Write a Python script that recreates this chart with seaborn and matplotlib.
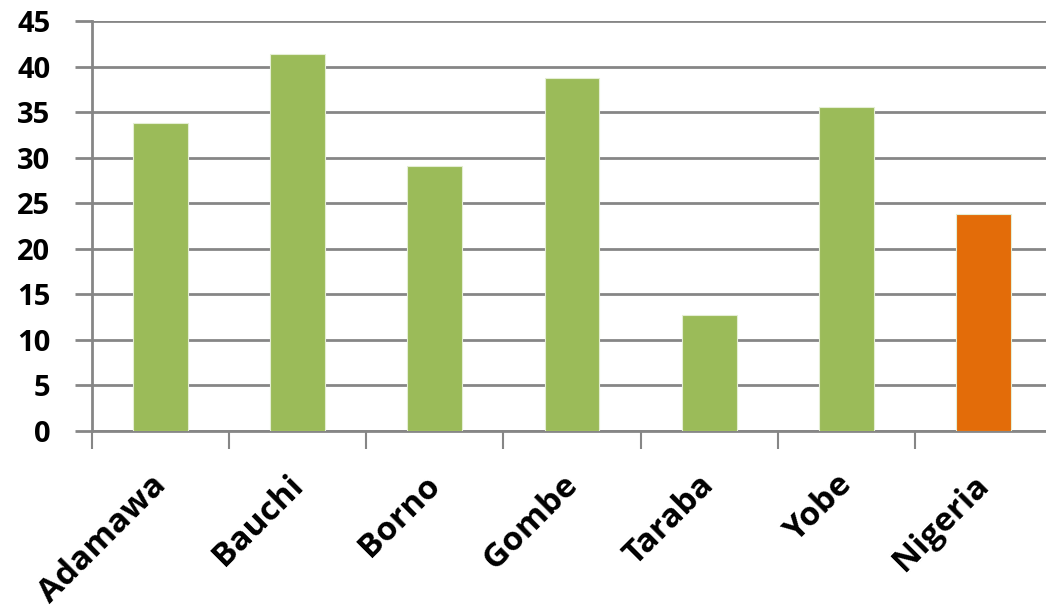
import matplotlib
matplotlib.use("Agg")
import matplotlib.pyplot as plt
import matplotlib.transforms as mtransforms
import seaborn as sns
import pandas as pd
import numpy as np

# Values per state, with the national figure last
regions = ["Adamawa", "Bauchi", "Borno", "Gombe", "Taraba", "Yobe", "Nigeria"]
values = [33.8, 41.4, 29.1, 38.7, 12.7, 35.6, 23.8]
bar_colors = ["#9BBB59"] * 6 + ["#E36C09"]
y_ticks = [0, 5, 10, 15, 20, 25, 30, 35, 40, 45]

sns.set_theme(style="white")
plt.rcParams["font.family"] = ["Open Sans", "DejaVu Sans"]
plt.rcParams["font.weight"] = "bold"
plt.rcParams["text.color"] = "black"

df = pd.DataFrame({"region": regions, "value": values})

fig = plt.figure(figsize=(10.46, 6.11), dpi=100)
ax = fig.add_axes([92 / 1046, 180 / 611, 960 / 1046, 410 / 611])

sns.barplot(data=df, x="region", y="value", hue="region", palette=bar_colors,
            width=0.4, legend=False, ax=ax, edgecolor="#E4EED4", linewidth=0.8,
            saturation=1, zorder=3)

grid_color = "#868686"
ax.set_ylim(0, 45)
ax.set_xlim(-0.5, len(regions) - 0.5)
ax.set_yticks(y_ticks)
ax.set_yticklabels([str(t) for t in y_ticks], fontsize=21, fontweight="bold",
                   color="black")
ax.yaxis.grid(True, color=grid_color, linewidth=2, zorder=0)
ax.set_axisbelow(True)

# Category boundary tick marks on the x axis
ax.set_xticks(np.arange(-0.5, len(regions) + 0.5, 1.0), minor=True)
ax.tick_params(axis="x", which="minor", length=13, width=1.5, color=grid_color,
               direction="out", bottom=True)
ax.tick_params(axis="x", which="major", length=0, pad=27)
ax.tick_params(axis="y", length=12, width=2, color=grid_color, direction="out",
               left=True, pad=18)

ax.set_xticks(range(len(regions)))
ax.set_xticklabels(regions, rotation=45, ha="right", va="top", fontsize=24,
                   fontweight="bold", color="black")
shift = mtransforms.ScaledTranslation(12 / 100, 0, fig.dpi_scale_trans)
for lbl in ax.get_xticklabels():
    lbl.set_transform(lbl.get_transform() + shift)

ax.set_xlabel("")
ax.set_ylabel("")
for side in ["top", "right"]:
    ax.spines[side].set_visible(False)
for side in ["left", "bottom"]:
    ax.spines[side].set_color(grid_color)
    ax.spines[side].set_linewidth(2)

fig.savefig("out.png", dpi=100)
